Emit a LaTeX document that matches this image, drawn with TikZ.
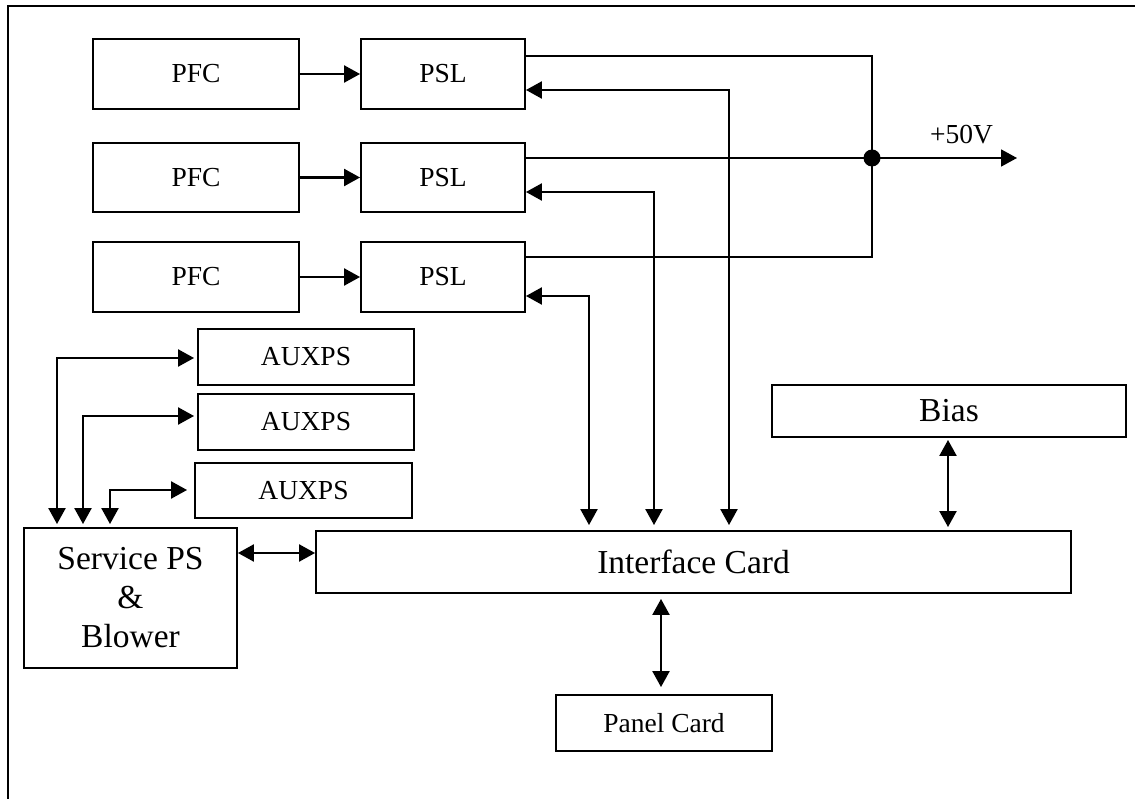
\documentclass[tikz,border=0pt]{standalone}
\usepackage{fontspec}
\setmainfont{Liberation Serif}
\usetikzlibrary{arrows.meta,calc}
\begin{document}
\begin{tikzpicture}[x=1pt,y=-1pt,
  blk/.style={draw,line width=1.9pt,inner sep=0pt,anchor=center,font=\fontsize{27.5}{33}\selectfont},
  bigblk/.style={blk,font=\fontsize{33.5}{39}\selectfont,align=center},
  wire/.style={line width=1.8pt},
  conn/.style={line width=2.3pt,-{Triangle[length=16pt,width=17pt]}},
  biconn/.style={line width=2.3pt,{Triangle[length=16pt,width=17pt]}-{Triangle[length=16pt,width=17pt]}}]
\useasboundingbox (0,0) rectangle (1135,799);
\fill[white] (0,0) rectangle (1135,799);
% frame
\draw[line width=2.4pt] (8,800) -- (8,6) -- (1136,6);
% blocks
\node[blk,minimum width=206pt,minimum height=70pt] (pfc1) at (196,74) {PFC};
\node[blk,minimum width=164pt,minimum height=70pt] (psl1) at (443,74) {PSL};
\node[blk,minimum width=206pt,minimum height=69pt] (pfc2) at (196,177.5) {PFC};
\node[blk,minimum width=164pt,minimum height=69pt] (psl2) at (443,177.5) {PSL};
\node[blk,minimum width=206pt,minimum height=70pt] (pfc3) at (196,277) {PFC};
\node[blk,minimum width=164pt,minimum height=70pt] (psl3) at (443,277) {PSL};
\node[blk,minimum width=216pt,minimum height=56pt] (aux1) at (306,357) {AUXPS};
\node[blk,minimum width=216pt,minimum height=56pt] (aux2) at (306,422) {AUXPS};
\node[blk,minimum width=217pt,minimum height=55pt] (aux3) at (303.5,490.5) {AUXPS};
\node[bigblk,minimum width=213pt,minimum height=140pt] (svc) at (130.5,598) {Service PS\\\&\\Blower};
\node[bigblk,minimum width=755pt,minimum height=62pt] (intf) at (693.5,562) {Interface Card};
\node[bigblk,minimum width=354pt,minimum height=52pt] (bias) at (949,411) {Bias};
\node[blk,minimum width=216pt,minimum height=56pt] (panel) at (664,723) {Panel Card};
% PFC -> PSL
\draw[conn] (pfc1.east) -- (psl1.west);
\draw[conn] (pfc2.east) -- (psl2.west);
\draw[conn] (pfc3.east) -- (psl3.west);
% +50V bus
\coordinate (bus) at (872,158);
\coordinate (out) at (1017,158);
\draw[wire] ($(psl1.east)+(0,-18)$) -| (bus);
\draw[wire] ($(psl3.east)+(0,-20)$) -| (bus);
\draw[wire,-{Triangle[length=16pt,width=17pt]}] ($(psl2.east)+(0,-19.5)$) -- (out);
\fill (bus) circle (8.5pt);
\node[font=\fontsize{27.5}{33}\selectfont,anchor=base,inner sep=0pt] (v50) at (961.5,144) {+50V};
% control lines PSL <-> Interface
\coordinate (i1) at (729,0);
\coordinate (i2) at (654,0);
\coordinate (i3) at (589,0);
\draw[biconn,shorten >=5pt] ($(psl1.east)+(0,16)$) -| (i1 |- intf.north);
\draw[biconn,shorten >=5pt] ($(psl2.east)+(0,14.5)$) -| (i2 |- intf.north);
\draw[biconn,shorten >=5pt] ($(psl3.east)+(0,19)$) -| (i3 |- intf.north);
% Bias <-> Interface
\coordinate (b1) at (948,0);
\draw[biconn,shorten <=2pt,shorten >=3pt] (b1 |- bias.south) -- (b1 |- intf.north);
% Interface <-> Panel
\coordinate (p1) at (661,0);
\draw[biconn,shorten <=5pt,shorten >=7pt] (p1 |- intf.south) -- (p1 |- panel.north);
% Service <-> Interface
\coordinate (sy) at (0,553);
\draw[biconn] (svc.east |- sy) -- (intf.west |- sy);
% AUXPS <-> Service
\coordinate (a1) at (57,358);
\coordinate (a2) at (83,416);
\coordinate (a3) at (110,490);
\draw[biconn,shorten <=3pt,shorten >=3pt] (a1 |- svc.north) |- (aux1.west |- a1);
\draw[biconn,shorten <=3pt,shorten >=3pt] (a2 |- svc.north) |- (aux2.west |- a2);
\draw[biconn,shorten <=3pt,shorten >=7pt] (a3 |- svc.north) |- (aux3.west |- a3);
\end{tikzpicture}
\end{document}
